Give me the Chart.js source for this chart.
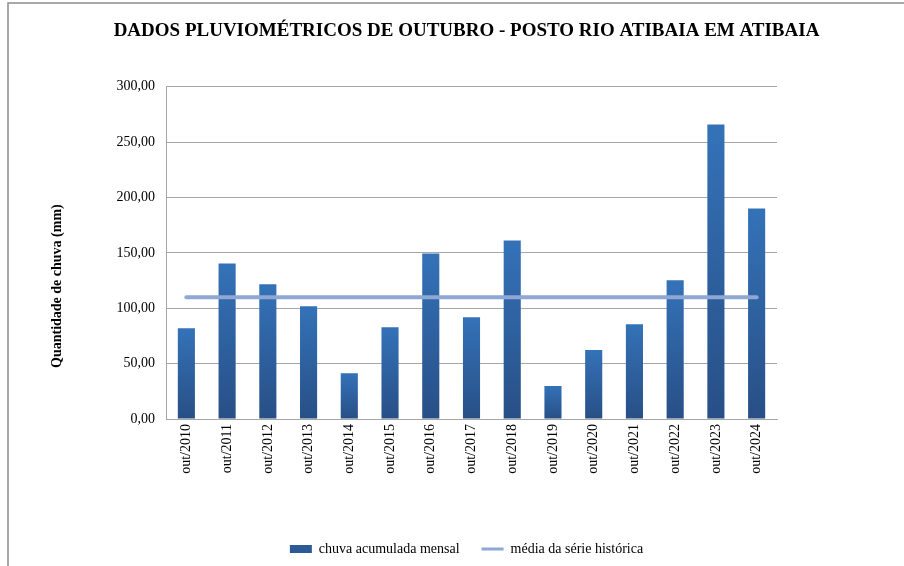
<!DOCTYPE html>
<html>
<head>
<meta charset="utf-8">
<script src="https://cdn.jsdelivr.net/npm/chart.js@4"></script>
<style>
  html, body { margin: 0; padding: 0; background: #fff; }
  canvas { display: block; }
</style>
</head>
<body>
<canvas id="chart" width="904" height="566"></canvas>
<script>
// Data
const years = ['out/2010', 'out/2011', 'out/2012', 'out/2013', 'out/2014', 'out/2015', 'out/2016', 'out/2017',
	'out/2018', 'out/2019', 'out/2020', 'out/2021', 'out/2022', 'out/2023', 'out/2024'];
const rainfall = [82.0, 140.5, 121.6, 101.8, 41.4, 82.9, 149.5, 91.9, 161.3, 29.7, 62.2, 85.6, 125.2, 266.0, 190.1];
const historicMean = [109.9, 109.9, 109.9, 109.9, 109.9, 109.9, 109.9, 109.9, 109.9, 109.9, 109.9, 109.9, 109.9, 109.9, 109.9];
const yTicks = [0, 50, 100, 150, 200, 250, 300];
const yTitle = 'Quantidade de chuva (mm)';

const serif = "'Liberation Serif', 'DejaVu Serif', serif";
const gridGray = '#a6a6a6';

// Per-bar gradient, light at top and dark at bottom
function barFill(ctx) {
	const chart = ctx.chart;
	const area = chart.chartArea;
	if(!area || ctx.parsed === undefined) {
		return '#2f62a3';
	}
	const yScale = chart.scales.y;
	const top = yScale.getPixelForValue(ctx.parsed.y);
	const bottom = yScale.getPixelForValue(0);
	const g = chart.ctx.createLinearGradient(0, top, 0, bottom);
	g.addColorStop(0, '#3472b8');
	g.addColorStop(1, '#284f86');
	return g;
}

// Outer frame lines (top and left) and the y axis title, which sits below centre
const framePlugin = {
	id: 'frame',
	beforeDraw(chart) {
		const c = chart.ctx;
		c.save();
		c.strokeStyle = '#8c8c8c';
		c.lineWidth = 1.5;
		c.beginPath();
		c.moveTo(8, chart.height);
		c.lineTo(8, 3);
		c.lineTo(chart.width, 3);
		c.stroke();
		c.restore();
	},
	afterDraw(chart) {
		const c = chart.ctx;
		const area = chart.chartArea;
		c.save();
		c.translate(57, area.top + (area.bottom - area.top) * 0.6);
		c.rotate(-Math.PI / 2);
		c.fillStyle = '#000';
		c.font = 'bold 14px ' + serif;
		c.textAlign = 'center';
		c.textBaseline = 'middle';
		c.fillText(yTitle, 0, 0);
		c.restore();
	}
};

window.onload = function() {
	const ctx = document.getElementById('chart');
	new Chart(ctx, {
		data: {
			labels: years,
			datasets: [
				{
					type: 'line',
					label: 'média da série histórica',
					data: historicMean,
					borderColor: '#8ea7d4',
					backgroundColor: '#8ea7d4',
					borderWidth: 4,
					borderCapStyle: 'round',
					pointRadius: 0,
					order: 0
				},
				{
					type: 'bar',
					label: 'chuva acumulada mensal',
					data: rainfall,
					backgroundColor: barFill,
					categoryPercentage: 1,
					barPercentage: 0.42,
					order: 1
				}
			]
		},
		options: {
			responsive: false,
			animation: false,
			devicePixelRatio: 1,
			layout: { padding: { left: 40, right: 11, top: 20, bottom: 0 } },
			plugins: {
				title: {
					display: true,
					text: 'DADOS PLUVIOMÉTRICOS DE OUTUBRO - POSTO RIO ATIBAIA EM ATIBAIA',
					color: '#000',
					font: { family: serif, size: 19, weight: 'bold' },
					padding: { top: 0, bottom: 44 }
				},
				legend: {
					position: 'bottom',
					labels: {
						color: '#000',
						font: { family: serif, size: 14 },
						usePointStyle: true,
						pointStyleWidth: 22,
						boxHeight: 8,
						padding: 22,
						generateLabels(chart) {
							const ds = chart.data.datasets;
							return [
								{ text: ds[1].label, pointStyle: 'rect', fillStyle: '#2c5a97', strokeStyle: '#2c5a97', lineWidth: 0, datasetIndex: 1 },
								{ text: ds[0].label, pointStyle: 'line', fillStyle: '#8ea7d4', strokeStyle: '#8ea7d4', lineWidth: 3, datasetIndex: 0 }
							];
						}
					}
				},
				tooltip: { enabled: false }
			},
			scales: {
				x: {
					offset: true,
					grid: { display: false, drawTicks: false },
					border: { color: gridGray, width: 1 },
					ticks: {
						color: '#000',
						font: { family: serif, size: 14 },
						minRotation: 90,
						maxRotation: 90,
						padding: 5
					},
					afterFit(s) { s.height = 101; }
				},
				y: {
					min: 0,
					max: 300,
					afterBuildTicks(s) { s.ticks = yTicks.map(v => ({ value: v })); },
					grid: { color: gridGray, lineWidth: 1, drawTicks: false },
					border: { color: gridGray, width: 1 },
					ticks: {
						color: '#000',
						font: { family: serif, size: 14 },
						padding: 11,
						callback: v => v.toFixed(2).replace('.', ',')
					},
					afterFit(s) { s.width = 126; }
				},
				spacer: {
					position: 'right',
					display: true,
					grid: { display: false },
					border: { display: false },
					ticks: { display: false },
					afterFit(s) { s.width = 116; }
				}
			}
		},
		plugins: [framePlugin]
	});
};
</script>
</body>
</html>
